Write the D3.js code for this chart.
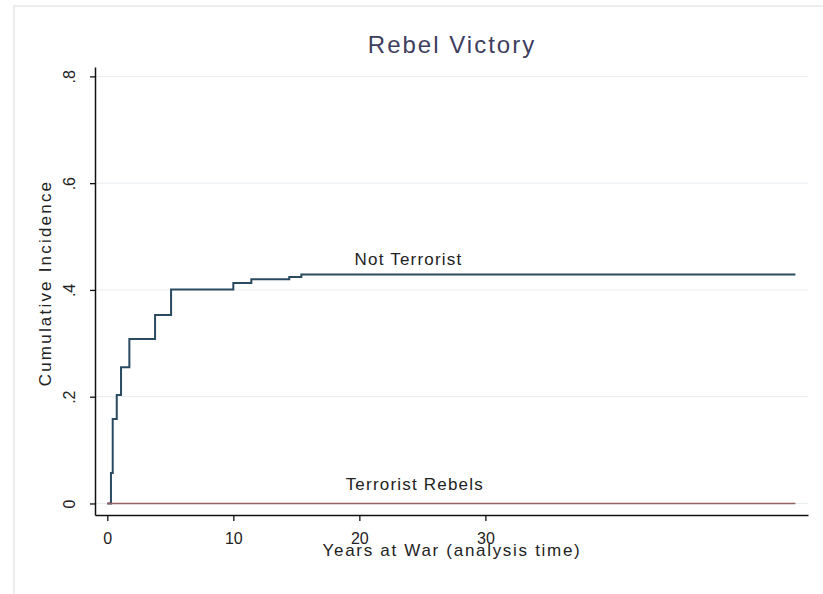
<!DOCTYPE html>
<html>
<head>
<meta charset="utf-8">
<script src="https://cdn.jsdelivr.net/npm/d3@7"></script>
<style>
  html, body { margin: 0; padding: 0; background: #ffffff; }
  svg { display: block; font-family: "Liberation Sans", Arial, sans-serif; }
</style>
</head>
<body>
<svg id="chart" width="823" height="594"></svg>
<script>
// ---- data ----
const title = "Rebel Victory";
const xTitle = "Years at War (analysis time)";
const yTitle = "Cumulative Incidence";
const xTicks = [0, 10, 20, 30];
const yTicks = [0, 0.2, 0.4, 0.6, 0.8];
const yTickLabels = ["0", ".2", ".4", ".6", ".8"];
const notTerroristTimes  = [0, 0.29, 0.43, 0.75, 1.09, 1.75, 3.79, 5.06, 10.0, 11.43, 14.44, 15.40, 54.6];
const notTerroristValues = [0, 0.057, 0.158, 0.203, 0.255, 0.308, 0.353, 0.401, 0.413, 0.420, 0.424, 0.429, 0.429];
const terroristTimes  = [0, 54.6];
const terroristValues = [0, 0];
const seriesLabels = ["Not Terrorist", "Terrorist Rebels"];
const labelPos = [[23.9, 0.447], [24.4, 0.025]];

// ---- layout ----
const svg = d3.select("#chart");
const x = d3.scaleLinear().domain([-0.976, 55.6]).range([95, 808]);
const y = d3.scaleLinear().domain([-0.0216, 0.8176]).range([515, 67]);

// outer frame
svg.append("rect").attr("x", 14).attr("y", 6).attr("width", 840).attr("height", 620)
  .attr("fill", "none").attr("stroke", "#e6e6e6").attr("stroke-width", 1.5);

// gridlines
svg.append("g").selectAll("line").data(yTicks).join("line")
  .attr("x1", x.range()[0]).attr("x2", x.range()[1])
  .attr("y1", d => y(d)).attr("y2", d => y(d))
  .attr("stroke", "#e8edf0").attr("stroke-width", 1);

// y axis
const yAxis = svg.append("g").attr("transform", `translate(${x.range()[0]},0)`)
  .call(d3.axisLeft(y).tickValues(yTicks).tickSize(5).tickSizeOuter(0).tickFormat((d, i) => yTickLabels[i]));
yAxis.select(".domain").attr("stroke", "#111").attr("stroke-width", 1.5);
yAxis.selectAll(".tick line").attr("stroke", "#111").attr("stroke-width", 1.3);
yAxis.selectAll(".tick text")
  .attr("x", null).attr("dy", null)
  .attr("transform", "translate(-20,0) rotate(-90)")
  .attr("text-anchor", "middle")
  .attr("font-size", 16).attr("fill", "#222")
  .attr("font-family", "Liberation Sans, Arial, sans-serif");

// x axis
const xAxis = svg.append("g").attr("transform", `translate(0,${y.range()[0]})`)
  .call(d3.axisBottom(x).tickValues(xTicks).tickSize(6).tickSizeOuter(0).tickFormat(d3.format("d")));
xAxis.select(".domain").attr("stroke", "#111").attr("stroke-width", 1.5);
xAxis.selectAll(".tick line").attr("stroke", "#111").attr("stroke-width", 1.3);
xAxis.selectAll(".tick text")
  .attr("y", 29).attr("dy", null)
  .attr("font-size", 16).attr("fill", "#222")
  .attr("font-family", "Liberation Sans, Arial, sans-serif");

// lines
const line = d3.line().x(d => x(d[0])).y(d => y(d[1])).curve(d3.curveStepAfter);
svg.append("path")
  .datum(d3.zip(notTerroristTimes, notTerroristValues))
  .attr("d", line).attr("fill", "none")
  .attr("stroke", "#2a4a60").attr("stroke-width", 2);
svg.append("path")
  .datum(d3.zip(terroristTimes, terroristValues))
  .attr("d", line).attr("fill", "none")
  .attr("stroke", "#946060").attr("stroke-width", 1.6);

// series labels
svg.append("g").selectAll("text").data(seriesLabels).join("text")
  .attr("x", (d, i) => x(labelPos[i][0]))
  .attr("y", (d, i) => y(labelPos[i][1]))
  .attr("text-anchor", "middle")
  .attr("font-size", 17).attr("letter-spacing", 1.2)
  .attr("fill", "#222")
  .text(d => d);

// titles
svg.append("text").attr("x", 452).attr("y", 53).attr("text-anchor", "middle")
  .attr("font-size", 24).attr("letter-spacing", 2).attr("fill", "#3e3e5e").text(title);
svg.append("text").attr("x", 452).attr("y", 556).attr("text-anchor", "middle")
  .attr("font-size", 17).attr("letter-spacing", 1.7).attr("fill", "#222").text(xTitle);
svg.append("text").attr("transform", "translate(51,283) rotate(-90)").attr("text-anchor", "middle")
  .attr("font-size", 17).attr("letter-spacing", 2.2).attr("fill", "#222").text(yTitle);
</script>
</body>
</html>
